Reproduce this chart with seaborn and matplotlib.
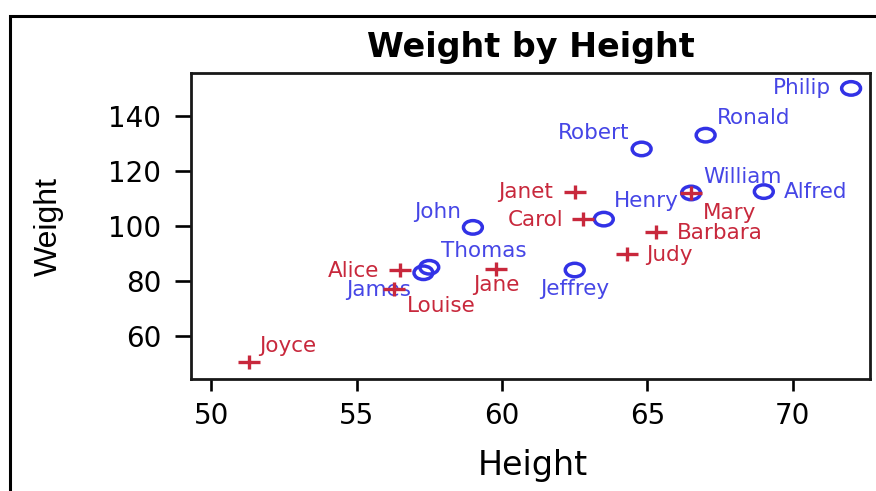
import pandas as pd
import seaborn as sns
from matplotlib import pyplot as plt
from matplotlib.path import Path
from matplotlib.transforms import Affine2D
from matplotlib.patches import Rectangle

# sashelp.class
names = ["Alfred", "Alice", "Barbara", "Carol", "Henry", "James", "Jane", "Janet",
         "Jeffrey", "John", "Joyce", "Judy", "Louise", "Mary", "Philip", "Robert",
         "Ronald", "Thomas", "William"]
sex = ["M", "F", "F", "F", "M", "M", "F", "F", "M", "M", "F", "F", "F", "F",
       "M", "M", "M", "M", "M"]
height = [69.0, 56.5, 65.3, 62.8, 63.5, 57.3, 59.8, 62.5, 62.5, 59.0, 51.3, 64.3,
          56.3, 66.5, 72.0, 64.8, 67.0, 57.5, 66.5]
weight = [112.5, 84.0, 98.0, 102.5, 102.5, 83.0, 84.5, 112.5, 84.0, 99.5, 50.5,
          90.0, 77.0, 112.0, 150.0, 128.0, 133.0, 85.0, 112.0]

df = pd.DataFrame({"Name": names, "Sex": sex, "Height": height, "Weight": weight})

# label placement: offset in pixels to the baseline, horizontal alignment
label_pos = {
    "Alfred": (20, -6, "left"),
    "Alice": (-21, -7, "right"),
    "Barbara": (21, -7, "left"),
    "Carol": (-20, -7, "right"),
    "Henry": (10, 12, "left"),
    "James": (-12, -23, "right"),
    "Jane": (0, -22, "center"),
    "Janet": (-22, -6, "right"),
    "Jeffrey": (0, -25, "center"),
    "John": (-12, 9, "right"),
    "Joyce": (10, 10, "left"),
    "Judy": (19, -7, "left"),
    "Louise": (13, -23, "left"),
    "Mary": (12, -26, "left"),
    "Philip": (-20, -6, "right"),
    "Robert": (-12, 10, "right"),
    "Ronald": (11, 11, "left"),
    "Thomas": (12, 10, "left"),
    "William": (12, 10, "left"),
}

blue = "#3232e6"
red = "#c8283c"

sns.set_theme(style="ticks")
plt.rcParams["font.family"] = ["DejaVu Sans"]
plt.rcParams["text.color"] = "black"

# the reference is stretched sideways, so are the markers
oval = Affine2D().scale(1.4, 1.0).transform_path(Path.unit_circle())
plus = Path([(-1.6, 0), (1.6, 0), (0, -1), (0, 1)],
            [Path.MOVETO, Path.LINETO, Path.MOVETO, Path.LINETO])

W, H = 876, 491
fig = plt.figure(figsize=(W / 100, H / 100), dpi=100)
ax = fig.add_axes([191 / W, 1 - 379 / H, (870 - 191) / W, (379 - 73) / H])

m = df[df.Sex == "M"]
f = df[df.Sex == "F"]
sns.scatterplot(data=m, x="Height", y="Weight", ax=ax, marker=oval, s=185,
                facecolor="none", edgecolor=blue, linewidth=2.5, zorder=3)
sns.scatterplot(data=f, x="Height", y="Weight", ax=ax, marker=plus, s=270,
                color=red, edgecolor=red, linewidth=2.4, zorder=4)

for n, s, x, y in zip(names, sex, height, weight):
    dx, dy, ha = label_pos[n]
    ax.annotate(n, (x, y), xytext=(dx, dy), textcoords="offset pixels",
                ha=ha, va="baseline", fontsize=15.5,
                color="#4646e6" if s == "M" else red)

ax.set_xlim(49.31, 72.65)
ax.set_ylim(44.4, 155.6)
ax.set_xticks([50, 55, 60, 65, 70])
ax.set_yticks([60, 80, 100, 120, 140])
ax.tick_params(labelsize=20, width=1.9, color="black", labelcolor="black")
ax.tick_params(axis="x", length=8.6, pad=8)
ax.tick_params(axis="y", length=11.5, pad=10)
for sp in ax.spines.values():
    sp.set_visible(True)
    sp.set_linewidth(2.0)
    sp.set_color("#181818")

ax.set_xlabel("")
ax.set_ylabel("")
fig.text(533 / W, 1 - 466 / H, "Height", fontsize=24, ha="center", va="center")
fig.text(49 / W, 1 - 226 / H, "Weight", fontsize=23, rotation=90,
         ha="center", va="center", family="Liberation Sans")
fig.text(531 / W, 1 - 57 / H, "Weight by Height", fontsize=24,
         fontweight="bold", ha="center", va="baseline")

# outer frame
fig.patches.append(Rectangle((10 / W, -0.1), 2, 1 - 16 / H + 0.1,
                             transform=fig.transFigure, fill=False,
                             edgecolor="black", linewidth=2.2))

fig.savefig("out.png", dpi=100)
